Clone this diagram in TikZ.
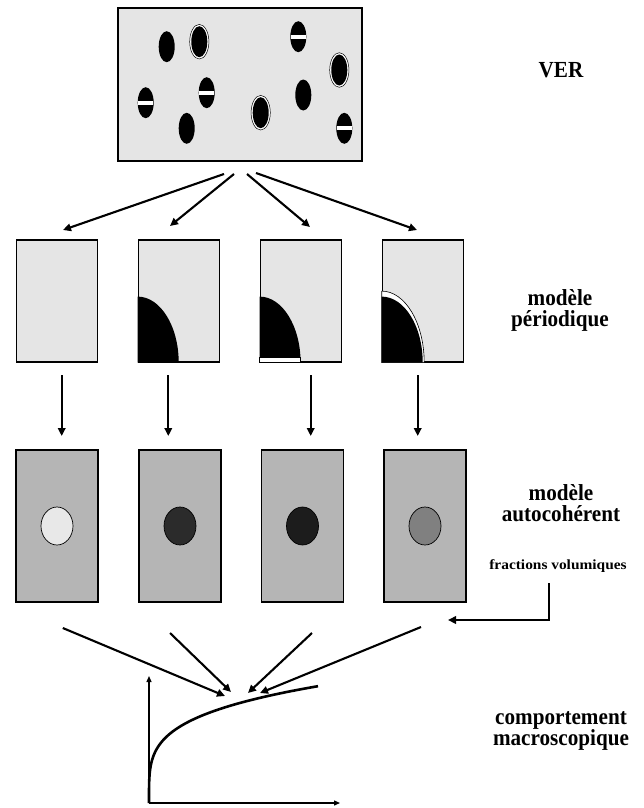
\documentclass[tikz,border=0pt]{standalone}
\usepackage{fontspec}
\setmainfont{Liberation Serif}[FakeStretch=0.92]
\newfontfamily\fracfont{Liberation Serif}[FakeStretch=1.1]
\usetikzlibrary{arrows.meta,shapes.geometric}

\tikzset{
  fleche/.style={line width=2.1pt, -{Triangle[length=8pt,width=7.5pt]}},
  ver box/.style={draw, line width=1.2pt, fill=black!10, minimum width=244pt, minimum height=153pt, inner sep=0pt},
  cell/.style={draw, line width=1.2pt, fill=black!10, minimum width=81pt, minimum height=122pt, inner sep=0pt},
  autocell/.style={draw, line width=1.2pt, fill=black!29, minimum width=82pt, minimum height=152pt, inner sep=0pt},
  incl/.style={draw, line width=0.7pt, ellipse, minimum width=32pt, minimum height=38pt},
  label/.style={font=\bfseries\fontsize{23}{21}\selectfont, align=center},
}

\begin{document}
\begin{tikzpicture}[x=1pt, y=-1pt]
		\useasboundingbox (0,0) rectangle (644,808);
		% VER
		\node[ver box] (ver) at (240,84.5) {};
		\foreach \px/\py in {166.7/46.7, 186.7/128.3, 303.3/95}
			\fill (\px,\py) ellipse (8 and 15.5);
		\foreach \px/\py in {199.3/41.7, 339.3/70, 260.7/112.7}{
			\draw[line width=0.5pt, fill=white] (\px,\py) ellipse (9.6 and 17.3);
			\fill (\px,\py) ellipse (8 and 15.5);}
		\foreach \px/\py in {298.3/36.7, 145.7/102.7, 206.7/92.7, 344.3/128.3}{
			\fill (\px,\py) ellipse (8 and 15.5);
			\fill[white] (\px-7.3,\py-2) rectangle (\px+7.3,\py+2);}
		\node[label] (lver) at (561,70) {VER};

		% modeles periodiques
		\node[cell] (p1) at (56.7,301) {};
		\node[cell] (p2) at (178.8,301) {};
		\node[cell] (p3) at (300.7,301) {};
		\node[cell] (p4) at (422.8,301) {};
		\fill (p2.south west) -- ++(0,-66) arc[start angle=-90, end angle=0, x radius=41, y radius=66] -- cycle;
		\fill (p3.south west) -- ++(0,-66) arc[start angle=-90, end angle=0, x radius=41, y radius=66] -- cycle;
		\draw[line width=0.8pt, fill=white] (p3.south west) rectangle ++(41,-5);
		\draw[line width=0.6pt, fill=white] (p4.south west) -- ++(0,-71.5) arc[start angle=-90, end angle=0, x radius=42.5, y radius=71.5] -- cycle;
		\fill (p4.south west) -- ++(0,-66) arc[start angle=-90, end angle=0, x radius=41, y radius=66] -- cycle;
		\node[label] (lper) at (560,310) {modèle\\périodique};

		% modeles autocoherents
		\node[autocell] (s1) at (57,526) {};
		\node[autocell] (s2) at (180,526) {};
		\node[autocell] (s3) at (302.5,526) {};
		\node[autocell] (s4) at (425,526) {};
		\node[incl, fill=black!9] (i1) at (s1) {};
		\node[incl, fill=black!83] (i2) at (s2) {};
		\node[incl, fill=black!89] (i3) at (s3) {};
		\node[incl, fill=black!50] (i4) at (s4) {};
		\node[label] (lauto) at (561,503) {modèle\\autocohérent};
		\node[font=\fracfont\bfseries\fontsize{14}{16}\selectfont] (lfrac) at (558,566) {fractions volumiques};

		% fleches
		\coordinate (v1) at (224,174);
		\coordinate (v2) at (234,174);
		\coordinate (v3) at (247,174);
		\coordinate (v4) at (256,173);
		\draw[fleche] (v1) -- (63,230);
		\draw[fleche] (v2) -- (170,226);
		\draw[fleche] (v3) -- (310,227);
		\draw[fleche] (v4) -- (417,230);
		\foreach \px in {61.7,168.3,310.7,417.7}
			\draw[fleche] (\px,375) -- (\px,436);
		\draw[fleche] (62.8,628) -- (225,696);
		\draw[fleche] (170,633) -- (231,692);
		\draw[fleche] (312,633) -- (248,693);
		\draw[fleche] (421,627) -- (260,693);
		\coordinate (f0) at (549,583);
		\draw[fleche] (f0) |- (448,620);

		% comportement
		\coordinate (o) at (149,803);
		\draw[line width=1.3pt, -{Triangle[length=6pt,width=5pt]}] (o) -- (149,676);
		\draw[line width=1.3pt, -{Triangle[length=6pt,width=5pt]}] (o) -- (340,803);
		\draw[line width=2.6pt, domain=0:3.606, samples=80, smooth] plot ({149+\x^4},{803-32.4*\x});
		\node[label] (lcomp) at (561,731) {comportement\\macroscopique};
		\end{tikzpicture}
\end{document}
